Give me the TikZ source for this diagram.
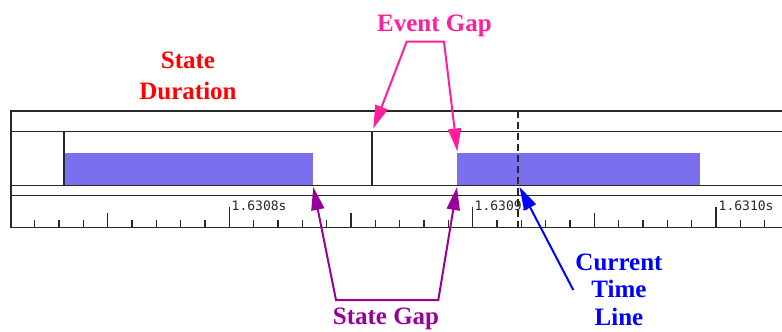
\documentclass[tikz,border=0pt]{standalone}
\usepackage{fontspec}
\setmainfont{Liberation Serif}
\newfontfamily\tickfont{DejaVu Sans Mono}
\usetikzlibrary{arrows.meta}
\definecolor{framec}{RGB}{40,40,40}
\definecolor{barc}{RGB}{123,111,238}
\definecolor{evc}{RGB}{255,30,155}
\definecolor{sgc}{RGB}{153,0,153}
\definecolor{ctc}{RGB}{0,0,255}
\definecolor{sdc}{RGB}{255,0,0}
\tikzset{
  frameline/.style={draw=framec, line width=1.2pt},
  barbox/.style={fill=barc, draw=none},
  ticklabel/.style={font=\tickfont\fontsize{13}{14}\selectfont, anchor=base west, inner sep=0pt, text=framec},
  annot/.style={font=\bfseries\fontsize{25}{30}\selectfont, inner sep=0pt, align=center},
  callout/.style={line width=2pt, -{Triangle[length=23pt,width=13pt]}},
  callout2/.style={line width=2pt, {Triangle[length=23pt,width=13pt]}-{Triangle[length=23pt,width=13pt]}},
}
\begin{document}
\begin{tikzpicture}[x=1pt,y=-1pt]
\useasboundingbox (0,0) rectangle (782,332);
% frame
\draw[frameline] (782,111) -- (11,111) -- (11,227.3) -- (782,227.3);
\draw[frameline] (11,131.7) -- (782,131.7);
\draw[frameline] (11,195.7) -- (782,195.7);
% bars
\fill[barbox] (64,152.7) rectangle (313.3,185.3);
\fill[barbox] (457.3,152.7) rectangle (700,185.3);
\draw[frameline] (64,131.7) -- (64,185.3);
\draw[frameline] (372,131.7) -- (372,185.3);
\draw[frameline] (11,185.3) -- (782,185.3);
% ticks
\foreach \i in {0,...,30}{
  \pgfmathsetmacro{\xx}{34.7+24.33*\i}
  \pgfmathtruncatemacro{\m}{mod(\i+2,10)}
  \ifnum\m=0
    \draw[frameline] (\xx,206.7) -- (\xx,227.3);
  \else\ifnum\m=5
    \draw[frameline] (\xx,213) -- (\xx,227.3);
  \else
    \draw[frameline] (\xx,220) -- (\xx,227.3);
  \fi\fi
}
\node[ticklabel] (l1) at (231.5,210) {1.6308s};
\node[ticklabel] (l2) at (474.5,210) {1.6309s};
\node[ticklabel] (l3) at (718.5,210) {1.6310s};
% current time line
\coordinate (ctT) at (518,111);
\coordinate (ctB) at (518,229);
\draw[frameline, dash pattern=on 7pt off 4pt] (ctT) -- (ctB);
% annotations
\node[annot, text=sdc, anchor=base, font=\bfseries\fontsize{25}{31}\selectfont] (sd) at (188,99.5) {State\\Duration};
\node[annot, text=evc, anchor=base] (ev) at (434.5,31.7) {Event Gap};
\node[annot, text=sgc, anchor=base] (sg) at (386,324) {State Gap};
\node[annot, text=ctc, anchor=base, text depth=0pt, font=\bfseries\fontsize{25}{27.5}\selectfont] (ct) at (619,325) {Current\\Time\\Line};
% event gap bracket
\coordinate (evL) at (406.7,41.7);
\coordinate (evR) at (444,41.7);
\coordinate (evA) at (373.3,128.5);
\coordinate (evB) at (457.3,151.5);
\draw[callout2, evc] (evA) -- (evL) -- (evR) -- (evB);
% state gap bracket
\coordinate (sgL) at (336,300);
\coordinate (sgR) at (438.3,300);
\coordinate (sgA) at (313.3,187);
\coordinate (sgB) at (457,187);
\draw[callout2, sgc] (sgA) -- (sgL) -- (sgR) -- (sgB);
% current time arrow
\coordinate (ctS) at (573.3,290);
\coordinate (ctA) at (519.5,187);
\draw[callout, ctc] (ctS) -- (ctA);
\end{tikzpicture}
\end{document}
